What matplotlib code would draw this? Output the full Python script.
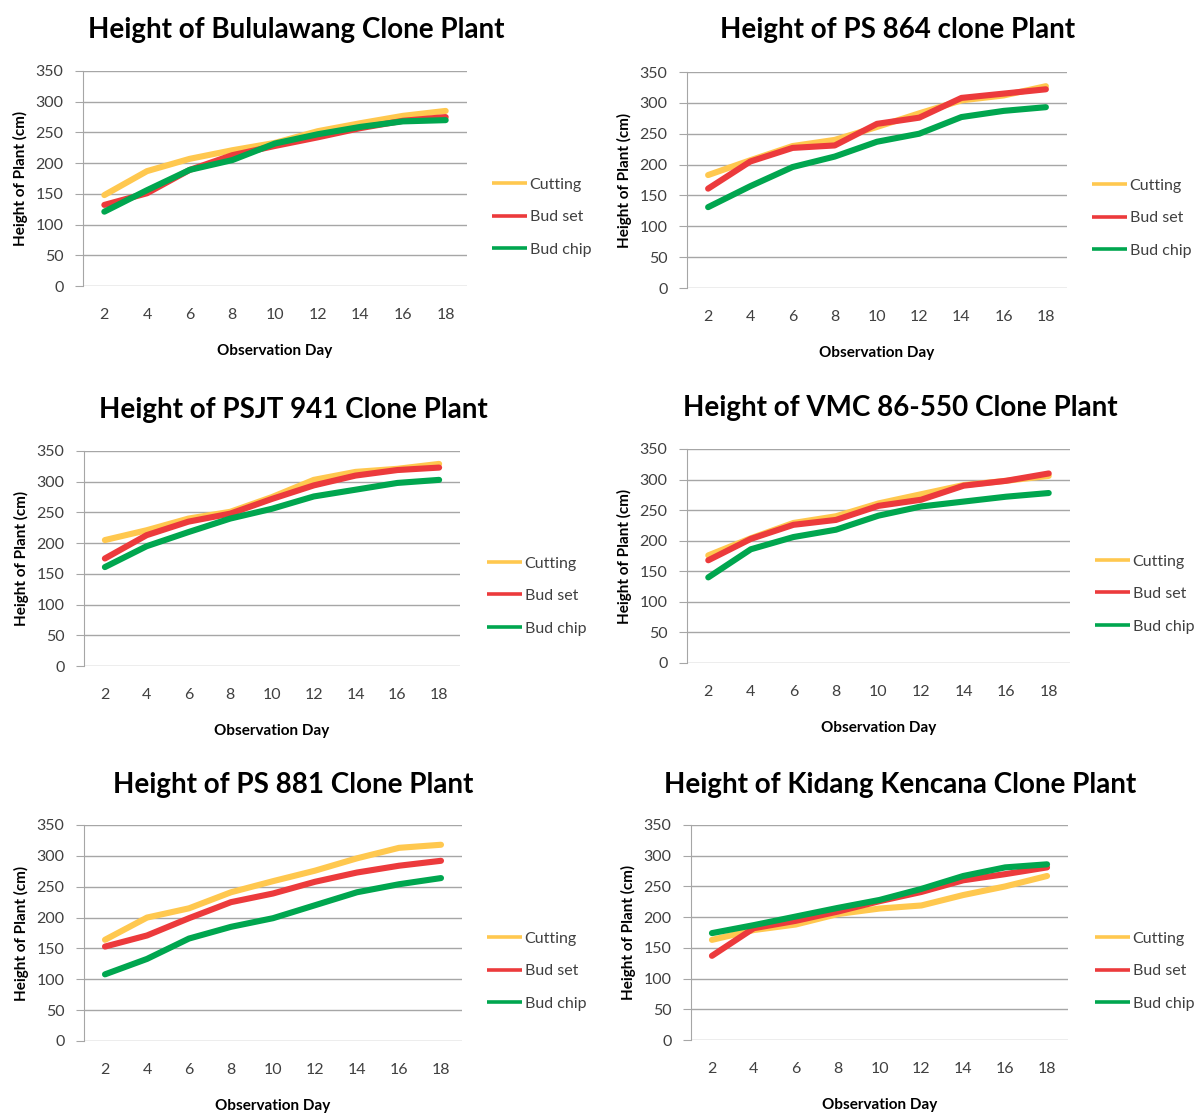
import matplotlib
matplotlib.use("Agg")
import matplotlib.pyplot as plt

plt.rcParams['font.family'] = ['Lato', 'DejaVu Sans']

days = [2, 4, 6, 8, 10, 12, 14, 16, 18]
series_names = ["Cutting", "Bud set", "Bud chip"]
colors = ["#FFC84F", "#EC3A3C", "#00A64F"]

titles = [
    "Height of Bululawang Clone Plant",
    "Height of PS 864 clone Plant",
    "Height of PSJT 941 Clone Plant",
    "Height of VMC 86-550 Clone Plant",
    "Height of PS 881 Clone Plant",
    "Height of Kidang Kencana Clone Plant",
]

bululawang_cutting = [148, 187, 207, 221, 233, 252, 265, 277, 285]
bululawang_budset = [132, 151, 189, 213, 228, 242, 257, 269, 275]
bululawang_budchip = [121, 156, 189, 205, 232, 247, 259, 268, 270]

ps864_cutting = [183, 207, 230, 240, 261, 283, 304, 312, 327]
ps864_budset = [161, 205, 227, 231, 266, 276, 308, 315, 322]
ps864_budchip = [131, 165, 196, 213, 237, 250, 277, 287, 293]

psjt941_cutting = [205, 221, 240, 251, 275, 303, 316, 321, 329]
psjt941_budset = [175, 213, 235, 248, 272, 294, 310, 319, 323]
psjt941_budchip = [161, 195, 218, 240, 256, 276, 287, 298, 303]

vmc_cutting = [176, 204, 229, 240, 261, 276, 291, 298, 306]
vmc_budset = [168, 203, 226, 234, 257, 267, 290, 298, 310]
vmc_budchip = [140, 186, 206, 218, 241, 256, 264, 272, 278]

ps881_cutting = [164, 200, 215, 241, 259, 276, 296, 313, 318]
ps881_budset = [153, 171, 199, 225, 239, 258, 273, 284, 292]
ps881_budchip = [108, 133, 166, 185, 199, 220, 241, 254, 264]

kidang_cutting = [163, 179, 188, 205, 214, 219, 236, 250, 267]
kidang_budset = [137, 182, 194, 209, 226, 241, 260, 270, 281]
kidang_budchip = [174, 187, 201, 215, 228, 246, 267, 281, 286]

panels_data = [
    [bululawang_cutting, bululawang_budset, bululawang_budchip],
    [ps864_cutting, ps864_budset, ps864_budchip],
    [psjt941_cutting, psjt941_budset, psjt941_budchip],
    [vmc_cutting, vmc_budset, vmc_budchip],
    [ps881_cutting, ps881_budset, ps881_budchip],
    [kidang_cutting, kidang_budset, kidang_budchip],
]

W, H = 1195, 1113
fig = plt.figure(figsize=(W / 100, H / 100), dpi=100)

# (left, top, right, bottom) in pixels
rects = [
    (83, 71, 467, 286),
    (687, 72, 1067, 288),
    (84, 451, 460, 666),
    (687, 449, 1070, 663),
    (84, 825, 462, 1041),
    (691, 825, 1068, 1040),
]
title_pos = [(296, 30), (898, 30), (293, 410), (900, 408), (293, 785), (900, 785)]
legend_pos = [(492, 217), (1092, 218), (487, 596), (1095, 594), (487, 971), (1095, 971)]

grid_col = "#A6A6A6"
text_col = "#404040"

for i in range(6):
    l, t, r, b = rects[i]
    ax = fig.add_axes([l / W, 1 - b / H, (r - l) / W, (b - t) / H])
    for vals, c, name in zip(panels_data[i], colors, series_names):
        ax.plot(days, vals, color=c, lw=4.4, solid_capstyle='round',
                solid_joinstyle='round', label=name)
    ax.set_xlim(1, 19)
    ax.set_ylim(0, 350)
    ax.set_yticks(range(0, 351, 50))
    ax.set_xticks(days)
    ax.yaxis.grid(True, color=grid_col, lw=1)
    ax.set_axisbelow(True)
    for s in ['top', 'right', 'bottom']:
        ax.spines[s].set_visible(False)
    ax.spines['left'].set_color(grid_col)
    ax.tick_params(axis='y', length=6, color=grid_col, labelsize=11.5,
                   labelcolor=text_col, pad=8)
    ax.tick_params(axis='x', length=0, labelsize=11.5, labelcolor=text_col, pad=16)
    ax.set_xlabel("Observation Day", fontsize=11, fontweight='bold',
                  color='black', labelpad=16)
    ax.set_ylabel("Height of Plant (cm)", fontsize=11, fontweight='bold',
                  color='black', labelpad=5)
    tx, ty = title_pos[i]
    fig.text(tx / W, 1 - ty / H, titles[i], fontsize=20, fontweight='bold',
             ha='center', va='center', color='black')
    lx, ly = legend_pos[i]
    ax.legend(loc='center left', bbox_to_anchor=(lx / W, 1 - ly / H),
              bbox_transform=fig.transFigure, frameon=False, fontsize=11.5,
              handlelength=2.2, handletextpad=0.15, labelspacing=1.15,
              borderpad=0, borderaxespad=0, labelcolor=text_col)
    for h in ax.get_legend().get_lines():
        h.set_linewidth(2.6)
        h.set_solid_capstyle('butt')

fig.savefig("out.png", dpi=100, facecolor='white')
